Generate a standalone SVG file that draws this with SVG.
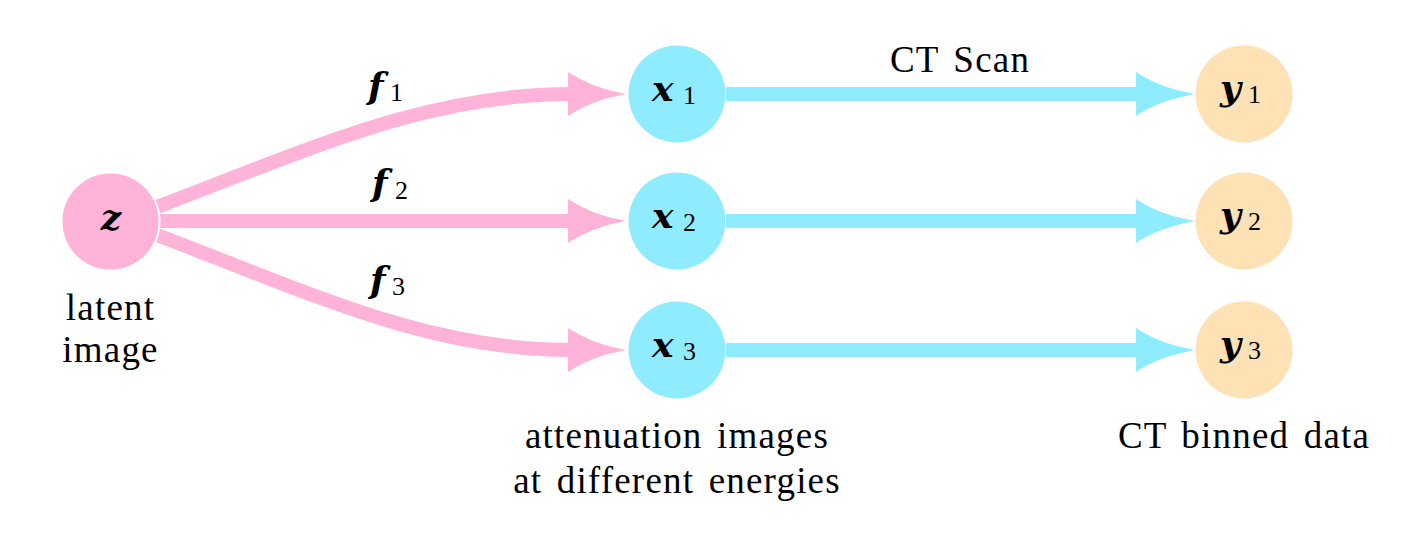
<svg xmlns="http://www.w3.org/2000/svg" width="1418" height="534" viewBox="0 0 1418 534">
<style>
.lbl{font-family:"Liberation Serif","DejaVu Serif",serif;font-size:37px;letter-spacing:1.2px;word-spacing:4px;fill:#000}
.m{font-family:"DejaVu Serif","Liberation Serif",serif;font-size:36px;font-weight:bold;font-style:italic;fill:#000}
.s{font-family:"Liberation Serif","DejaVu Serif",serif;font-size:26px;fill:#000}
.pk{fill:none;stroke:#FFB3D9;stroke-width:14}
.cy{fill:none;stroke:#8FECFF;stroke-width:14}
.pkh{fill:#FFB3D9}
.cyh{fill:#8FECFF}
</style>
<rect width="1418" height="534" fill="#fff"/>
<g id="connectors">
<path class="pk" d="M157,207 C320,145 430,94 572,94"/>
<path class="pkh" d="M568,72 Q592,88 626,94 Q592,100 568,116 Z"/>
<path class="pk" d="M159,221 L572,221"/>
<path class="pkh" d="M568,199 Q592,215 626,221 Q592,227 568,243 Z"/>
<path class="pk" d="M157,235 C320,297 430,350 572,350"/>
<path class="pkh" d="M568,328 Q592,344 626,350 Q592,356 568,372 Z"/>
<path class="cy" d="M726,94 L1140,94"/>
<path class="cyh" d="M1136,72 Q1160,88 1195,94 Q1160,100 1136,116 Z"/>
<path class="cy" d="M726,221 L1140,221"/>
<path class="cyh" d="M1136,199 Q1160,215 1195,221 Q1160,227 1136,243 Z"/>
<path class="cy" d="M726,350 L1140,350"/>
<path class="cyh" d="M1136,328 Q1160,344 1195,350 Q1160,356 1136,372 Z"/>
<text class="m" x="368" y="98">f</text><text class="s" x="390" y="101">1</text>
<text class="m" x="372" y="195">f</text><text class="s" x="395" y="199">2</text>
<text class="m" x="370" y="292">f</text><text class="s" x="392" y="295">3</text>
<text class="lbl" x="960" y="72" text-anchor="middle">CT Scan</text>
</g>
<g id="node-z">
<circle cx="110.5" cy="221.5" r="49" fill="#FFB3D9" stroke="#fff" stroke-width="2"/>
<text class="m" x="111" y="230" text-anchor="middle">z</text>
<text class="lbl" x="110.5" y="320" text-anchor="middle">latent</text>
<text class="lbl" x="110.5" y="362" text-anchor="middle">image</text>
</g>
<g id="node-x1">
<circle cx="677" cy="94" r="48.5" fill="#8FECFF"/>
<text class="m" x="652" y="101">x</text><text class="s" x="683" y="104">1</text>
</g>
<g id="node-x2">
<circle cx="677" cy="221" r="48.5" fill="#8FECFF"/>
<text class="m" x="652" y="228">x</text><text class="s" x="683" y="231">2</text>
</g>
<g id="node-x3">
<circle cx="677" cy="350" r="48.5" fill="#8FECFF"/>
<text class="m" x="652" y="357">x</text><text class="s" x="683" y="360">3</text>
<text class="lbl" x="677" y="448" text-anchor="middle">attenuation images</text>
<text class="lbl" x="677" y="493" text-anchor="middle">at different energies</text>
</g>
<g id="node-y1">
<circle cx="1244" cy="94" r="48.5" fill="#FFE1B6"/>
<text class="m" x="1220" y="100">y</text><text class="s" x="1248" y="103">1</text>
</g>
<g id="node-y2">
<circle cx="1244" cy="221" r="48.5" fill="#FFE1B6"/>
<text class="m" x="1220" y="227">y</text><text class="s" x="1248" y="230">2</text>
</g>
<g id="node-y3">
<circle cx="1244" cy="350" r="48.5" fill="#FFE1B6"/>
<text class="m" x="1220" y="356">y</text><text class="s" x="1248" y="359">3</text>
<text class="lbl" x="1244" y="448" text-anchor="middle">CT binned data</text>
</g>
</svg>
